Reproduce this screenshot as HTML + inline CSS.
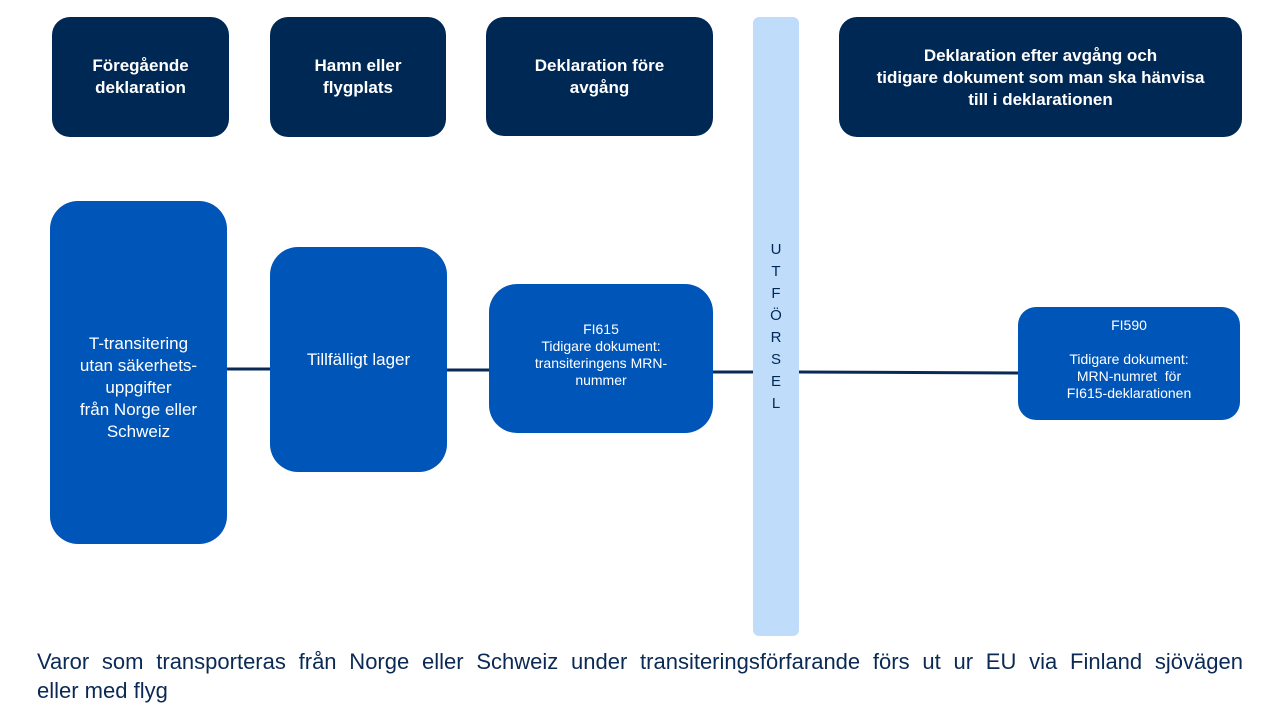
<!DOCTYPE html>
<html><head><meta charset="utf-8"><style>
body{margin:0;width:1280px;height:720px;background:#fff;position:relative;overflow:hidden;font-family:"Liberation Sans",Arial,sans-serif}
.b{position:absolute;display:flex;align-items:center;justify-content:center;text-align:center;color:#fff;box-sizing:border-box}
.h{background:#002855;font-weight:bold;font-size:17px;line-height:22px;border-radius:18px}
.m{background:#0055b8}
</style></head><body>
<svg width="1280" height="720" style="position:absolute;left:0;top:0">
<path d="M227 369 L270 369 M447 370 L489 370 M713 372 L753 372 M799 372 L1018 373" stroke="#0a2a55" stroke-width="3" fill="none"/>
</svg>
<div class="b h" style="left:52px;top:17px;width:177px;height:120px">Föregående<br>deklaration</div>
<div class="b h" style="left:270px;top:17px;width:176px;height:120px">Hamn eller<br>flygplats</div>
<div class="b h" style="left:486px;top:17px;width:227px;height:119px;align-items:flex-start;padding-top:38px">Deklaration före<br>avgång</div>
<div class="b h" style="left:839px;top:17px;width:403px;height:120px;align-items:flex-start;padding-top:28px">Deklaration efter avgång och<br>tidigare dokument som man ska hänvisa<br>till i deklarationen</div>
<div class="b" style="left:753px;top:17px;width:46px;height:619px;background:#bfdcfb;border-radius:6px;color:#002855;font-size:15px;line-height:22px;flex-direction:column">U<br>T<br>F<br>Ö<br>R<br>S<br>E<br>L</div>
<div class="b m" style="left:50px;top:201px;width:177px;height:343px;border-radius:28px;font-size:17px;line-height:22px;padding-top:30px">T-transitering<br>utan säkerhets-<br>uppgifter<br>från Norge eller<br>Schweiz</div>
<div class="b m" style="left:270px;top:247px;width:177px;height:225px;border-radius:28px;font-size:17px">Tillfälligt lager</div>
<div class="b m" style="left:489px;top:284px;width:224px;height:149px;border-radius:28px;font-size:14px;line-height:17px;padding-bottom:8px">FI615<br>Tidigare dokument:<br>transiteringens MRN-<br>nummer</div>
<div class="b m" style="left:1018px;top:307px;width:222px;height:113px;border-radius:18px;font-size:14px;line-height:17px;align-items:flex-start;padding-top:10px">FI590<br><br>Tidigare dokument:<br>MRN-numret&nbsp; för<br>FI615-deklarationen</div>
<div style="position:absolute;left:37px;top:647px;width:1206px;font-size:22px;line-height:29px;color:#0a2a55">
<div style="text-align:justify;text-align-last:justify">Varor som transporteras från Norge eller Schweiz under transiteringsförfarande förs ut ur EU via Finland sjövägen</div>
<div>eller med flyg</div>
</div>
</body></html>
